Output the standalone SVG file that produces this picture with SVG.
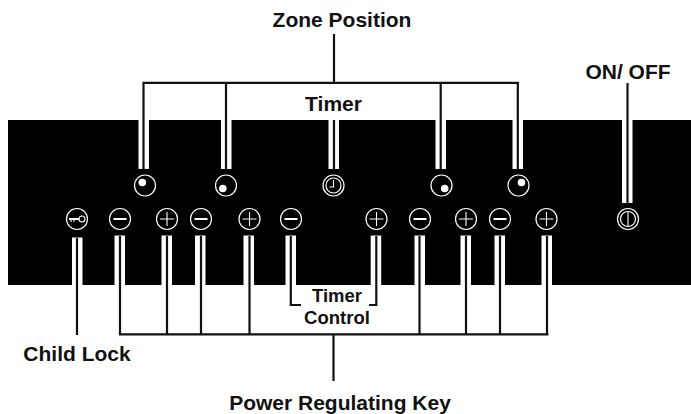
<svg xmlns="http://www.w3.org/2000/svg" width="691" height="414" viewBox="0 0 691 414">
<style>
text{font-family:"Liberation Sans",Arial,sans-serif;font-weight:bold;fill:#111;text-anchor:middle;font-size:21px}
.s{fill:#fff}
.l{fill:none;stroke:#111;stroke-width:2.2}
.c{fill:none;stroke:#fff;stroke-width:1.2}
.g{fill:none;stroke:#fff;stroke-width:2}
.t{fill:none;stroke:#fff;stroke-width:1.1}
.d{fill:#fff}
.m{font-size:18.5px}
</style>
<defs>
<g id="minus"><circle class="c" r="10.5"/><path class="g" d="M-6.5 0H6.5"/></g>
<g id="plus"><circle class="c" r="10.5"/><path class="t" d="M-7 0H7M0-7V7"/></g>
</defs>
<rect id="panel" x="8" y="120" width="683" height="165" fill="#000"/>
<g id="strips">
<rect class="s" x="138.5" y="120" width="10.5" height="49"/>
<rect class="s" x="221" y="120" width="10.5" height="49"/>
<rect class="s" x="328.5" y="120" width="10.5" height="49"/>
<rect class="s" x="435.5" y="120" width="10.5" height="49"/>
<rect class="s" x="512.5" y="120" width="10.5" height="49"/>
<rect class="s" x="622" y="120" width="10.5" height="83"/>
<rect class="s" x="72" y="237.5" width="10.5" height="47.5"/>
<rect class="s" x="114.5" y="235.5" width="10.5" height="49.5"/>
<rect class="s" x="161.5" y="235.5" width="10.5" height="49.5"/>
<rect class="s" x="195" y="235.5" width="10.5" height="49.5"/>
<rect class="s" x="243.5" y="235.5" width="10.5" height="49.5"/>
<rect class="s" x="285.5" y="235.5" width="10.5" height="49.5"/>
<rect class="s" x="370.7" y="235.5" width="10.5" height="49.5"/>
<rect class="s" x="414.5" y="235.5" width="10.5" height="49.5"/>
<rect class="s" x="460.5" y="235.5" width="10.5" height="49.5"/>
<rect class="s" x="494.5" y="235.5" width="10.5" height="49.5"/>
<rect class="s" x="541.5" y="235.5" width="10.5" height="49.5"/>
</g>
<g id="connectors">
<path class="l" d="M334 34V82.8M143.5 169V82.8H517.8V169M226 82.8V169M440.7 82.8V169"/>
<path class="l" d="M334 120V169"/>
<path class="l" d="M627.5 83V203"/>
<path class="l" d="M77 238V335"/>
<path class="l" d="M120 236V334.3H548.5M167 236V334.3M201 236V334.3M249.5 236V334.3M419.5 236V334.3M466 236V334.3M500 236V334.3M547 236V334.3"/>
<path class="l" d="M333.5 334.3V381"/>
<path class="l" d="M290.8 236V305H301M376.3 236V305H369"/>
</g>
<g id="zone1"><circle class="c" cx="145" cy="185.5" r="10.5"/><circle class="d" cx="142.3" cy="182.5" r="3.8"/></g>
<g id="zone2"><circle class="c" cx="226" cy="185.5" r="10.5"/><circle class="d" cx="222.8" cy="188.5" r="3.8"/></g>
<g id="clock"><circle class="c" cx="333.5" cy="185.5" r="10.5"/><circle class="c" cx="333.5" cy="185.5" r="7.5"/><path class="t" d="M333.5 180V187H329.5"/></g>
<g id="zone3"><circle class="c" cx="441.5" cy="185.5" r="10.5"/><circle class="d" cx="444.7" cy="188.5" r="3.8"/></g>
<g id="zone4"><circle class="c" cx="518.5" cy="185.5" r="10.5"/><circle class="d" cx="521.5" cy="182.5" r="3.8"/></g>
<g id="key"><circle class="c" cx="77" cy="219" r="10.5"/><path class="g" d="M69 219H79"/><path class="t" d="M71 219V222M74 219V222"/><circle class="t" cx="82" cy="219" r="3"/></g>
<use id="m1" href="#minus" x="120" y="219"/>
<use id="p1" href="#plus" x="167" y="219"/>
<use id="m2" href="#minus" x="201" y="219"/>
<use id="p2" href="#plus" x="249.5" y="219"/>
<use id="m3" href="#minus" x="291" y="219"/>
<use id="p3" href="#plus" x="376.5" y="219"/>
<use id="m4" href="#minus" x="420" y="219"/>
<use id="p4" href="#plus" x="466" y="219"/>
<use id="m5" href="#minus" x="500" y="219"/>
<use id="p5" href="#plus" x="546.5" y="219"/>
<g id="power"><circle class="c" cx="628" cy="219" r="10.5"/><circle class="c" cx="628" cy="219" r="7.5"/><path class="t" d="M628 212V226"/></g>
<g id="labels">
<text x="342" y="27">Zone Position</text>
<text x="333.5" y="111">Timer</text>
<text x="628" y="79">ON/ OFF</text>
<text x="77" y="361">Child Lock</text>
<text x="340" y="410">Power Regulating Key</text>
<text class="m" x="337" y="302">Timer</text>
<text class="m" x="337" y="324">Control</text>
</g>
</svg>
